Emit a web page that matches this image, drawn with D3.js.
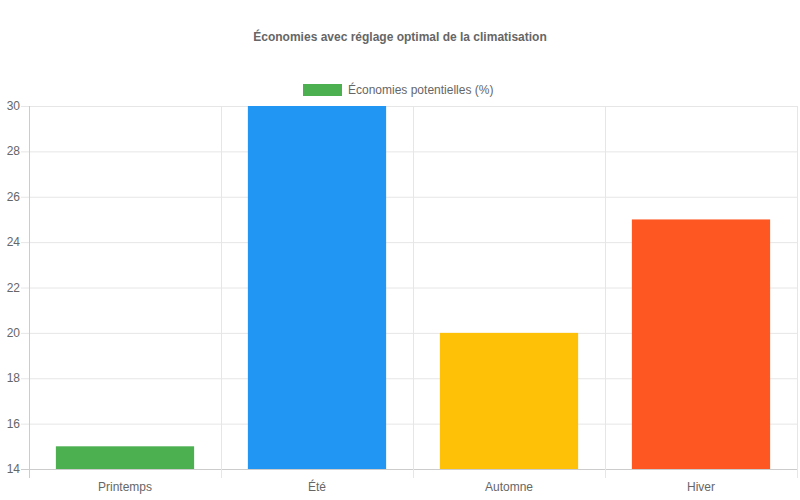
<!DOCTYPE html>
<html><head><meta charset="utf-8">
<script src="https://cdn.jsdelivr.net/npm/d3@7"></script>
<style>body{margin:0;background:#fff}text{font-family:"Liberation Sans",Arial,sans-serif}</style>
</head><body><svg id="c" width="800" height="500"></svg>
<script>
const categories = ["Printemps", "Été", "Automne", "Hiver"];
const savings = [15, 30, 20, 25];
const colors = ["#4CAF50", "#2196F3", "#FFC107", "#FF5722"];
const yTicks = [14, 16, 18, 20, 22, 24, 26, 28, 30];

const svg = d3.select("#c");
const m = { left: 29, right: 797, top: 106, bottom: 469 };

const x = d3.scaleBand().domain(categories).range([m.left, m.right]).paddingInner(0).paddingOuter(0);
const y = d3.scaleLinear().domain([14, 30]).range([m.bottom, m.top]);

// grid
svg.selectAll(".hg").data(yTicks).join("line")
  .attr("x1", m.left - 8).attr("x2", m.right)
  .attr("y1", d => y(d) + 0.5).attr("y2", d => y(d) + 0.5)
  .attr("stroke", d => d === 14 ? "#ccc" : "#e6e6e6");
const vlines = categories.map(c => x(c)).concat([m.right]);
svg.selectAll(".vg").data(vlines).join("line")
  .attr("x1", d => d + 0.5).attr("x2", d => d + 0.5)
  .attr("y1", m.top).attr("y2", m.bottom + 9)
  .attr("stroke", (d, i) => i === 0 ? "#ccc" : "#e6e6e6");

// bars
const bw = x.bandwidth() * 0.72;
svg.selectAll(".bar").data(savings).join("rect")
  .attr("x", (d, i) => x(categories[i]) + (x.bandwidth() - bw) / 2)
  .attr("width", bw)
  .attr("y", d => y(d))
  .attr("height", d => y(14) - y(d))
  .attr("fill", (d, i) => colors[i]);

// labels
svg.selectAll(".yl").data(yTicks).join("text")
  .attr("x", 20).attr("y", d => y(d) + 4)
  .attr("text-anchor", "end").attr("font-size", 12).attr("fill", "#666")
  .text(d => d);
svg.selectAll(".xl").data(categories).join("text")
  .attr("x", d => x(d) + x.bandwidth() / 2).attr("y", 491)
  .attr("text-anchor", "middle").attr("font-size", 12).attr("fill", "#666")
  .text(d => d);

// title
svg.append("text").attr("x", 400).attr("y", 41).attr("text-anchor", "middle")
  .attr("font-size", 12).attr("font-weight", "bold").attr("fill", "#666")
  .text("Économies avec réglage optimal de la climatisation");

// legend
svg.append("rect").attr("x", 303).attr("y", 84).attr("width", 39).attr("height", 12).attr("fill", colors[0]);
svg.append("text").attr("x", 348).attr("y", 94).attr("font-size", 12).attr("fill", "#666")
  .text("Économies potentielles (%)");
</script></body></html>
